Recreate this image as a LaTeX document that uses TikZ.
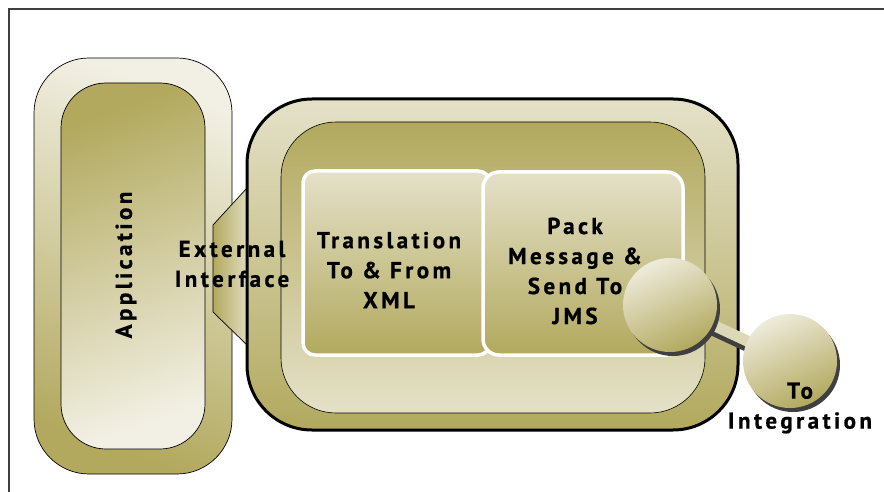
\documentclass[tikz,border=0pt]{standalone}
\usepackage{fontspec}
\newfontfamily\lblfont[LetterSpace=15, BoldFeatures={FakeBold=0.8}]{PT Sans}
\usetikzlibrary{shadows}
\definecolor{olive}{HTML}{B2A95E}
\definecolor{cream}{HTML}{E4E1C8}
\definecolor{paper}{HTML}{F2F0E4}
\definecolor{rim}{HTML}{3F3F3F}

\begin{document}
\begin{tikzpicture}[x=1pt,y=-1pt,
    lbl/.style={font=\lblfont\bfseries\fontsize{23}{30}\selectfont, align=center, inner sep=0pt},
    panel/.style={draw=black, line width=0.7pt, inner sep=0pt, outer sep=0pt},
    stage/.style={draw=white, line width=3.5pt, inner sep=0pt, outer sep=0pt,
      top color=cream, bottom color=olive},
    ball/.style={circle, minimum size=94pt, inner sep=0pt, top color=paper!70!cream,
      bottom color=olive, shading angle=25,
      drop shadow={shadow xshift=3pt, shadow yshift=-4pt, fill=rim, opacity=1}}]
  \useasboundingbox (0,0) rectangle (884,492);
  \draw [rim, line width=1.2pt] (9,492) -- (9,9) -- (884,9);
  % Application side
  \node [panel, rounded corners=55pt, minimum width=198pt, minimum height=416pt,
    top color=paper, bottom color=olive, shading angle=-20] (appout) at (133,266) {};
  \node [panel, rounded corners=45pt, minimum width=144pt, minimum height=366pt,
    top color=olive, bottom color=paper, shading angle=20] (appin) at (133,266) {};
  \node [lbl, rotate=90] (applbl) at (126,265) {Application};
  % Interface wedge
  \draw [line width=0.7pt, left color=olive, right color=cream!90!olive]
    (247,188) -- (213,225) -- (213,312) -- (247,345) -- cycle;
  % Adapter
  \node [panel, line width=3pt, rounded corners=65pt, minimum width=491pt, minimum height=331pt,
    top color=cream, bottom color=olive] (adapter) at (492.5,264.5) {};
  \node [panel, line width=0.6pt, rounded corners=55pt, minimum width=424pt, minimum height=291pt,
    top color=olive, bottom color=cream] (core) at (493,267.5) {};
  \node [stage, rounded corners=12pt, minimum width=187pt, minimum height=184pt] (xlate) at (396.5,263) {};
  \node [stage, rounded corners=16pt, minimum width=200pt, minimum height=183pt] (pack) at (583,263.5) {};
  \node [lbl] (xlatelbl) at (389,270) {Translation\\To \& From\\XML};
  \node [lbl] (packlbl) at (575,271) {Pack\\Message \&\\Send To\\JMS};
  \node [lbl] (extlbl) at (232,264) {External\\Interface};
  % Link to integration
  \coordinate (portc) at (670,305);
  \coordinate (destc) at (790,361);
  \draw [rim, line width=15pt] ([yshift=-3pt]portc) -- ([yshift=-3pt]destc);
  \draw [cream!85!olive, line width=11pt] (portc) -- (destc);
  \node [ball] (port) at (portc) {};
  \node [ball] (dest) at (destc) {};
  \node [lbl] (destlbl) at (800,408) {To\\Integration};
\end{tikzpicture}
\end{document}
